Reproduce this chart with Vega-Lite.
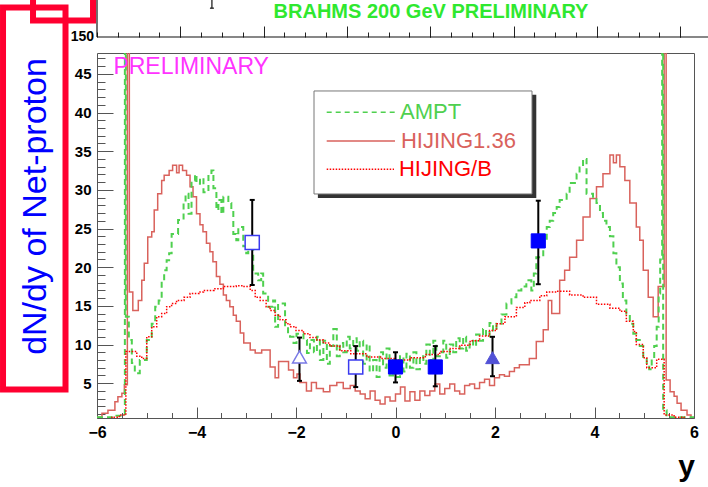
{
  "$schema": "https://vega.github.io/schema/vega-lite/v6.json",
  "autosize": "none",
  "width": 597,
  "height": 365,
  "padding": {"left": 97, "top": 53, "right": 14, "bottom": 69},
  "background": "white",
  "config": {"view": {"stroke": "#555", "strokeWidth": 1}, "font": "Liberation Sans"},
  "resolve": {"axis": {"x": "independent", "y": "independent"}},
  "datasets": {
    "salmon": [
      {"x":-6.0,"v":0.6},{"x":-5.9,"v":1.1},{"x":-5.78,"v":1.5},{"x":-5.64,"v":2.6},{"x":-5.58,"v":3.25},{"x":-5.5,"v":3.7},{"x":-5.45,"v":4.8},{"x":-5.39,"v":200},{"x":-5.35,"v":16.8},{"x":-5.28,"v":14.4},{"x":-5.17,"v":15.7},{"x":-5.1,"v":18.3},{"x":-5.05,"v":20.5},{"x":-4.98,"v":23.9},{"x":-4.9,"v":24.6},{"x":-4.85,"v":27.4},{"x":-4.78,"v":29.5},{"x":-4.7,"v":31.2},{"x":-4.65,"v":31.9},{"x":-4.55,"v":32.5},{"x":-4.48,"v":33.2},{"x":-4.4,"v":32.2},{"x":-4.35,"v":33.2},{"x":-4.28,"v":32.5},{"x":-4.2,"v":31.9},{"x":-4.13,"v":30.4},{"x":-4.07,"v":29.1},{"x":-4.0,"v":26.9},{"x":-3.93,"v":25.5},{"x":-3.87,"v":24.6},{"x":-3.8,"v":23.1},{"x":-3.73,"v":22.0},{"x":-3.67,"v":20.7},{"x":-3.6,"v":18.8},{"x":-3.53,"v":17.8},{"x":-3.46,"v":16.4},{"x":-3.4,"v":15.7},{"x":-3.33,"v":14.9},{"x":-3.26,"v":13.8},{"x":-3.2,"v":13.0},{"x":-3.12,"v":11.5},{"x":-3.05,"v":10.2},{"x":-2.92,"v":9.3},{"x":-2.82,"v":8.9},{"x":-2.69,"v":9.3},{"x":-2.52,"v":7.1},{"x":-2.42,"v":5.7},{"x":-2.35,"v":7.8},{"x":-2.15,"v":6.7},{"x":-2.05,"v":5.7},{"x":-1.98,"v":6.2},{"x":-1.92,"v":5.1},{"x":-1.79,"v":4.0},{"x":-1.69,"v":5.1},{"x":-1.59,"v":4.3},{"x":-1.45,"v":3.9},{"x":-1.32,"v":4.7},{"x":-1.18,"v":5.1},{"x":-1.05,"v":4.3},{"x":-0.91,"v":4.7},{"x":-0.81,"v":4.0},{"x":-0.71,"v":3.6},{"x":-0.61,"v":3.0},{"x":-0.51,"v":4.0},{"x":-0.41,"v":2.8},{"x":-0.31,"v":2.3},{"x":-0.21,"v":3.2},{"x":-0.11,"v":2.7},{"x":0.0,"v":3.6},{"x":0.1,"v":4.5},{"x":0.19,"v":2.7},{"x":0.29,"v":3.9},{"x":0.39,"v":2.8},{"x":0.49,"v":4.0},{"x":0.59,"v":3.4},{"x":0.69,"v":4.0},{"x":0.79,"v":4.9},{"x":0.89,"v":3.6},{"x":0.99,"v":4.3},{"x":1.09,"v":4.9},{"x":1.19,"v":4.0},{"x":1.29,"v":3.6},{"x":1.39,"v":4.7},{"x":1.49,"v":4.9},{"x":1.59,"v":4.3},{"x":1.69,"v":5.1},{"x":1.79,"v":5.5},{"x":1.89,"v":4.7},{"x":1.99,"v":5.7},{"x":2.09,"v":6.1},{"x":2.19,"v":5.9},{"x":2.29,"v":6.5},{"x":2.39,"v":7.0},{"x":2.49,"v":7.4},{"x":2.69,"v":8.2},{"x":2.83,"v":10.4},{"x":2.97,"v":11.9},{"x":3.07,"v":15.7},{"x":3.14,"v":14.0},{"x":3.3,"v":18.3},{"x":3.4,"v":19.6},{"x":3.5,"v":21.3},{"x":3.64,"v":23.5},{"x":3.77,"v":26.5},{"x":3.91,"v":28.9},{"x":4.04,"v":30.4},{"x":4.17,"v":32.1},{"x":4.31,"v":34.5},{"x":4.38,"v":33.5},{"x":4.44,"v":34.5},{"x":4.51,"v":33.0},{"x":4.61,"v":31.2},{"x":4.71,"v":28.3},{"x":4.84,"v":25.2},{"x":4.91,"v":23.5},{"x":4.98,"v":19.6},{"x":5.08,"v":16.1},{"x":5.18,"v":13.6},{"x":5.28,"v":17.5},{"x":5.4,"v":200},{"x":5.44,"v":5.4},{"x":5.52,"v":3.9},{"x":5.6,"v":3.3},{"x":5.66,"v":2.4},{"x":5.74,"v":1.5},{"x":5.86,"v":0.9},{"x":5.94,"v":0.5},{"x":6.0,"v":0.5}
    ],
    "green": [
      {"x":-6.0,"v":0.6},{"x":-5.7,"v":0.8},{"x":-5.5,"v":1.0},{"x":-5.44,"v":200},{"x":-5.42,"v":13.6},{"x":-5.36,"v":10.6},{"x":-5.3,"v":7.6},{"x":-5.24,"v":6.3},{"x":-5.14,"v":8.0},{"x":-5.0,"v":10.6},{"x":-4.9,"v":12.7},{"x":-4.83,"v":14.9},{"x":-4.76,"v":15.7},{"x":-4.7,"v":18.3},{"x":-4.65,"v":19.6},{"x":-4.6,"v":20.9},{"x":-4.55,"v":21.8},{"x":-4.5,"v":24.3},{"x":-4.37,"v":26.1},{"x":-4.26,"v":28.3},{"x":-4.22,"v":29.5},{"x":-4.16,"v":26.9},{"x":-4.1,"v":31.2},{"x":-4.03,"v":32.0},{"x":-4.0,"v":30.8},{"x":-3.93,"v":31.5},{"x":-3.86,"v":29.7},{"x":-3.76,"v":32.0},{"x":-3.7,"v":32.5},{"x":-3.66,"v":30.2},{"x":-3.6,"v":27.4},{"x":-3.56,"v":28.7},{"x":-3.5,"v":26.9},{"x":-3.46,"v":29.1},{"x":-3.36,"v":28.3},{"x":-3.3,"v":27.4},{"x":-3.26,"v":24.3},{"x":-3.2,"v":23.5},{"x":-3.16,"v":25.2},{"x":-3.06,"v":22.7},{"x":-3.0,"v":21.8},{"x":-2.96,"v":23.1},{"x":-2.86,"v":19.2},{"x":-2.76,"v":18.3},{"x":-2.7,"v":19.2},{"x":-2.66,"v":16.6},{"x":-2.56,"v":14.9},{"x":-2.46,"v":15.7},{"x":-2.42,"v":12.3},{"x":-2.36,"v":15.3},{"x":-2.22,"v":12.3},{"x":-2.16,"v":11.4},{"x":-2.12,"v":11.0},{"x":-2.05,"v":10.2},{"x":-1.99,"v":11.4},{"x":-1.85,"v":10.6},{"x":-1.78,"v":8.9},{"x":-1.72,"v":10.6},{"x":-1.64,"v":9.0},{"x":-1.58,"v":11.0},{"x":-1.52,"v":8.0},{"x":-1.45,"v":10.5},{"x":-1.38,"v":7.5},{"x":-1.32,"v":9.8},{"x":-1.25,"v":12.0},{"x":-1.18,"v":8.5},{"x":-1.12,"v":10.2},{"x":-1.05,"v":9.0},{"x":-0.98,"v":11.0},{"x":-0.92,"v":9.5},{"x":-0.85,"v":10.8},{"x":-0.78,"v":9.2},{"x":-0.72,"v":10.5},{"x":-0.65,"v":7.5},{"x":-0.58,"v":10.0},{"x":-0.52,"v":6.5},{"x":-0.45,"v":8.0},{"x":-0.38,"v":5.8},{"x":-0.32,"v":9.0},{"x":-0.25,"v":7.0},{"x":-0.18,"v":9.5},{"x":-0.12,"v":6.0},{"x":-0.05,"v":8.0},{"x":0.02,"v":5.8},{"x":0.09,"v":8.5},{"x":0.16,"v":6.5},{"x":0.22,"v":8.8},{"x":0.29,"v":7.0},{"x":0.36,"v":9.0},{"x":0.42,"v":6.8},{"x":0.49,"v":8.5},{"x":0.56,"v":7.5},{"x":0.62,"v":10.0},{"x":0.69,"v":8.0},{"x":0.76,"v":10.5},{"x":0.82,"v":8.5},{"x":0.89,"v":9.0},{"x":0.96,"v":10.5},{"x":1.02,"v":8.3},{"x":1.09,"v":10.0},{"x":1.16,"v":9.0},{"x":1.22,"v":10.8},{"x":1.29,"v":9.5},{"x":1.36,"v":11.0},{"x":1.42,"v":9.2},{"x":1.49,"v":10.5},{"x":1.56,"v":9.8},{"x":1.62,"v":11.3},{"x":1.69,"v":10.5},{"x":1.76,"v":12.0},{"x":1.82,"v":11.0},{"x":1.89,"v":12.8},{"x":1.96,"v":11.8},{"x":2.03,"v":12.7},{"x":2.13,"v":13.9},{"x":2.23,"v":15.3},{"x":2.33,"v":16.1},{"x":2.43,"v":17.0},{"x":2.53,"v":17.5},{"x":2.63,"v":18.3},{"x":2.73,"v":17.0},{"x":2.78,"v":19.2},{"x":2.83,"v":21.3},{"x":2.97,"v":23.5},{"x":3.04,"v":25.2},{"x":3.1,"v":26.0},{"x":3.17,"v":27.0},{"x":3.24,"v":27.8},{"x":3.3,"v":28.7},{"x":3.37,"v":28.7},{"x":3.44,"v":29.5},{"x":3.5,"v":30.9},{"x":3.64,"v":32.1},{"x":3.7,"v":32.9},{"x":3.77,"v":34.0},{"x":3.84,"v":29.5},{"x":3.97,"v":29.1},{"x":4.04,"v":28.3},{"x":4.11,"v":27.0},{"x":4.17,"v":26.0},{"x":4.24,"v":25.2},{"x":4.31,"v":24.0},{"x":4.38,"v":21.8},{"x":4.44,"v":20.0},{"x":4.51,"v":17.9},{"x":4.57,"v":15.7},{"x":4.64,"v":14.0},{"x":4.71,"v":12.7},{"x":4.78,"v":11.4},{"x":4.84,"v":10.6},{"x":4.91,"v":9.8},{"x":4.98,"v":8.4},{"x":5.05,"v":7.6},{"x":5.1,"v":6.8},{"x":5.15,"v":8.4},{"x":5.2,"v":9.8},{"x":5.25,"v":12.3},{"x":5.29,"v":16.6},{"x":5.32,"v":21.0},{"x":5.36,"v":200},{"x":5.38,"v":1.5},{"x":5.45,"v":0.6},{"x":6.0,"v":0.6}
    ],
    "red": [
      {"x":-6.0,"v":0.4},{"x":-5.7,"v":0.6},{"x":-5.55,"v":0.9},{"x":-5.42,"v":9.1},{"x":-5.2,"v":8.5},{"x":-5.1,"v":8.2},{"x":-5.0,"v":11.0},{"x":-4.9,"v":12.3},{"x":-4.8,"v":13.6},{"x":-4.7,"v":14.0},{"x":-4.6,"v":14.9},{"x":-4.5,"v":15.3},{"x":-4.4,"v":15.7},{"x":-4.25,"v":16.1},{"x":-4.13,"v":16.6},{"x":-3.95,"v":16.8},{"x":-3.86,"v":17.0},{"x":-3.65,"v":17.2},{"x":-3.46,"v":17.5},{"x":-3.2,"v":17.6},{"x":-3.06,"v":17.5},{"x":-2.92,"v":17.0},{"x":-2.82,"v":16.1},{"x":-2.72,"v":15.7},{"x":-2.6,"v":14.9},{"x":-2.52,"v":14.4},{"x":-2.42,"v":13.8},{"x":-2.32,"v":13.2},{"x":-2.2,"v":12.7},{"x":-2.12,"v":12.3},{"x":-2.0,"v":11.8},{"x":-1.85,"v":11.4},{"x":-1.72,"v":10.9},{"x":-1.58,"v":10.6},{"x":-1.45,"v":10.2},{"x":-1.32,"v":9.8},{"x":-1.12,"v":9.2},{"x":-0.9,"v":8.8},{"x":-0.58,"v":8.4},{"x":-0.3,"v":8.2},{"x":0.0,"v":8.0},{"x":0.29,"v":8.3},{"x":0.6,"v":8.7},{"x":0.89,"v":9.1},{"x":1.1,"v":9.5},{"x":1.29,"v":9.9},{"x":1.5,"v":10.5},{"x":1.69,"v":11.1},{"x":1.89,"v":11.8},{"x":2.03,"v":12.7},{"x":2.2,"v":13.6},{"x":2.43,"v":14.8},{"x":2.6,"v":15.4},{"x":2.7,"v":15.7},{"x":2.9,"v":16.3},{"x":3.04,"v":16.8},{"x":3.24,"v":16.9},{"x":3.5,"v":16.4},{"x":3.77,"v":16.1},{"x":4.04,"v":15.2},{"x":4.31,"v":14.7},{"x":4.51,"v":14.3},{"x":4.64,"v":13.0},{"x":4.78,"v":11.7},{"x":4.84,"v":10.0},{"x":4.98,"v":8.3},{"x":5.05,"v":7.0},{"x":5.25,"v":8.1},{"x":5.4,"v":0.9},{"x":5.6,"v":0.6},{"x":5.8,"v":0.4},{"x":6.0,"v":0.4}
    ],
    "points": [
      {"x":-2.88,"y":23.2,"lo":17.7,"hi":28.7,"k":"open-square"},
      {"x":-1.93,"y":8.4,"lo":5.3,"hi":10.9,"k":"open-triangle"},
      {"x":-0.8,"y":7.1,"lo":4.5,"hi":9.8,"k":"open-square"},
      {"x":0.0,"y":7.1,"lo":5.1,"hi":9.0,"k":"filled-square"},
      {"x":0.8,"y":7.1,"lo":4.6,"hi":9.8,"k":"filled-square"},
      {"x":1.95,"y":8.3,"lo":5.9,"hi":11.0,"k":"filled-triangle"},
      {"x":2.87,"y":23.4,"lo":17.8,"hi":28.6,"k":"filled-square"}
    ],
    "legendbox": [{"x":-1.638,"x2":2.744,"y":42.79,"y2":29.47}],
    "legendshadow": [{"x":-1.56,"x2":2.83,"y":42.3,"y2":28.95}],
    "legend": [
      {"s":"AMPT","x":-1.383,"x2":-0.01,"y":40.03,"tx":0.09},
      {"s":"HIJING1.36","x":-1.383,"x2":-0.01,"y":36.32,"tx":0.11},
      {"s":"HIJING/B","x":-1.383,"x2":-0.03,"y":32.66,"tx":0.07}
    ],
    "toppanel": [
      {"x":-6.0,"x2":6.4,"y":49.77,"y2":49.77},
      {"x":-6.0,"x2":-6.0,"y":49.77,"y2":56.0},
      {"x":-3.69,"x2":-3.69,"y":53.5,"y2":56.0},
      {"x":-3.73,"x2":-3.65,"y":53.5,"y2":53.5}
    ],
    "redboxes": [
      {"x":-7.889,"x2":-6.633,"y":53.58,"y2":4.19},
      {"x":-7.286,"x2":-6.08,"y":58.0,"y2":51.9}
    ]
  },
  "layer": [
    {
      "data": {"name": "salmon"},
      "mark": {"type": "line", "interpolate": "step-after", "clip": true, "color": "#d9625c", "strokeWidth": 1.5},
      "encoding": {
        "x": {"field": "x", "type": "quantitative", "scale": {"domain": [-6, 6], "nice": false, "zero": false},
          "axis": {"orient": "bottom", "values": [-6, -4, -2, 0, 2, 4, 6], "tickSize": -11, "tickColor": "#555", "domain": false, "grid": false, "labelPadding": 17, "labelFont": "Liberation Sans", "labelFontWeight": "bold", "labelFontSize": 16, "labelColor": "#000", "labelFlush": false, "labelOverlap": false,
            "title": "y", "titleFont": "Liberation Sans", "titleFontSize": 30, "titleFontWeight": "bold", "titleColor": "#000", "titleX": 589, "titleY": 57, "titleAlign": "center", "titleBaseline": "alphabetic"}},
        "y": {"field": "v", "type": "quantitative", "scale": {"domain": [0.5, 47.7], "nice": false, "zero": false},
          "axis": {"orient": "left", "values": [5, 10, 15, 20, 25, 30, 35, 40, 45], "tickSize": -16, "tickColor": "#555", "domain": false, "grid": false, "labelPadding": 22, "labelFont": "Liberation Sans", "labelFontWeight": "bold", "labelFontSize": 15, "labelColor": "#000", "labelFlush": false, "labelOverlap": false,
            "title": "dN/dy of Net-proton", "titleFont": "Liberation Sans", "titleFontSize": 34, "titleFontWeight": "normal", "titleColor": "#0000ff", "titleAngle": 270, "titleX": -62, "titleY": 153, "titleAlign": "center", "titleBaseline": "middle"}}
      }
    },
    {
      "data": {"name": "green"},
      "mark": {"type": "line", "interpolate": "step-after", "clip": true, "color": "#4fd04f", "strokeWidth": 2, "strokeDash": [6, 4]},
      "encoding": {
        "x": {"field": "x", "type": "quantitative", "scale": {"domain": [-6, 6], "nice": false, "zero": false},
          "axis": {"orient": "bottom", "values": [-5.5, -5, -4.5, -3.5, -3, -2.5, -1.5, -1, -0.5, 0.5, 1, 1.5, 2.5, 3, 3.5, 4.5, 5, 5.5], "tickSize": -5.5, "tickColor": "#555", "domain": false, "grid": false, "labels": false, "title": null}},
        "y": {"field": "v", "type": "quantitative", "scale": {"domain": [0.5, 47.7], "nice": false, "zero": false},
          "axis": {"orient": "left", "values": [1, 2, 3, 4, 6, 7, 8, 9, 11, 12, 13, 14, 16, 17, 18, 19, 21, 22, 23, 24, 26, 27, 28, 29, 31, 32, 33, 34, 36, 37, 38, 39, 41, 42, 43, 44, 46, 47, 50.93, 52.23, 53.52], "tickSize": -8, "tickColor": "#555", "domain": false, "grid": false, "labels": false, "title": null}}
      }
    },
    {
      "data": {"name": "red"},
      "mark": {"type": "line", "interpolate": "step-after", "clip": true, "color": "#ff0000", "strokeWidth": 1.5, "strokeDash": [1.5, 1.5]},
      "encoding": {
        "x": {"field": "x", "type": "quantitative", "scale": {"domain": [-6, 6], "nice": false, "zero": false},
          "axis": {"orient": "top", "offset": 16, "values": [-6.0, -5.581, -5.163, -4.744, -4.325, -3.907, -3.488, -3.069, -2.65, -2.232, -1.813, -1.394, -0.976, -0.557, -0.138, 0.281, 0.699, 1.118, 1.537, 1.955, 2.374, 2.793, 3.211, 3.63, 4.049, 4.468, 4.886, 5.305, 5.724, 6.142], "tickSize": 5, "tickColor": "#222", "domain": false, "grid": false, "labels": false, "title": null}},
        "y": {"field": "v", "type": "quantitative", "scale": {"domain": [0.5, 47.7], "nice": false, "zero": false}, "axis": null}
      }
    },
    {
      "data": {"name": "legendshadow"},
      "mark": {"type": "rect", "color": "#333", "opacity": 1},
      "encoding": {
        "x": {"field": "x", "type": "quantitative", "scale": {"domain": [-6, 6], "nice": false, "zero": false},
          "axis": {"orient": "top", "offset": 16, "values": [-4.325, -2.65, -0.976, 0.699, 2.374, 4.049, 5.724], "tickSize": 11, "tickColor": "#222", "domain": false, "grid": false, "labels": false, "title": null}},
        "x2": {"field": "x2"},
        "y": {"field": "y", "type": "quantitative", "scale": {"domain": [0.5, 47.7], "nice": false, "zero": false}, "axis": null},
        "y2": {"field": "y2"}
      }
    },
    {
      "data": {"name": "legendbox"},
      "mark": {"type": "rect", "fill": "white", "stroke": "#777", "strokeWidth": 1, "opacity": 1},
      "encoding": {
        "x": {"field": "x", "type": "quantitative", "axis": null},
        "x2": {"field": "x2"},
        "y": {"field": "y", "type": "quantitative", "axis": null},
        "y2": {"field": "y2"}
      }
    },
    {
      "data": {"name": "legend"},
      "mark": {"type": "rule", "strokeWidth": 1.5},
      "encoding": {
        "x": {"field": "x", "type": "quantitative", "axis": null},
        "x2": {"field": "x2"},
        "y": {"field": "y", "type": "quantitative", "axis": null},
        "color": {"field": "s", "type": "nominal", "legend": null, "scale": {"domain": ["AMPT", "HIJING1.36", "HIJING/B"], "range": ["#4fd04f", "#d9625c", "#ff0000"]}},
        "strokeDash": {"field": "s", "type": "nominal", "legend": null, "scale": {"domain": ["AMPT", "HIJING1.36", "HIJING/B"], "range": [[5, 4], [1, 0], [1.5, 1.5]]}}
      }
    },
    {
      "data": {"name": "legend"},
      "mark": {"type": "text", "align": "left", "baseline": "middle", "font": "Liberation Sans", "fontSize": 22},
      "encoding": {
        "x": {"field": "tx", "type": "quantitative", "axis": null},
        "y": {"field": "y", "type": "quantitative", "axis": null},
        "text": {"field": "s"},
        "color": {"field": "s", "type": "nominal", "legend": null, "scale": {"domain": ["AMPT", "HIJING1.36", "HIJING/B"], "range": ["#55cc55", "#cc5555", "#ff0000"]}}
      }
    },
    {
      "data": {"name": "points"},
      "mark": {"type": "rule", "color": "#000", "strokeWidth": 2},
      "encoding": {
        "x": {"field": "x", "type": "quantitative", "axis": null},
        "y": {"field": "lo", "type": "quantitative", "axis": null},
        "y2": {"field": "hi"}
      }
    },
    {
      "data": {"name": "points"},
      "mark": {"type": "tick", "orient": "horizontal", "color": "#000", "size": 5, "thickness": 2, "opacity": 1},
      "encoding": {
        "x": {"field": "x", "type": "quantitative", "axis": null},
        "y": {"field": "lo", "type": "quantitative", "axis": null}
      }
    },
    {
      "data": {"name": "points"},
      "mark": {"type": "tick", "orient": "horizontal", "color": "#000", "size": 5, "thickness": 2, "opacity": 1},
      "encoding": {
        "x": {"field": "x", "type": "quantitative", "axis": null},
        "y": {"field": "hi", "type": "quantitative", "axis": null}
      }
    },
    {
      "data": {"name": "points"},
      "transform": [{"filter": "datum.k === 'open-square'"}],
      "mark": {"type": "point", "shape": "square", "filled": true, "fill": "white", "stroke": "#3a3af0", "strokeWidth": 1.5, "size": 200, "opacity": 1},
      "encoding": {
        "x": {"field": "x", "type": "quantitative", "axis": null},
        "y": {"field": "y", "type": "quantitative", "axis": null}
      }
    },
    {
      "data": {"name": "points"},
      "transform": [{"filter": "datum.k === 'filled-square'"}],
      "mark": {"type": "point", "shape": "square", "filled": true, "fill": "#0000ff", "stroke": "#0000ff", "strokeWidth": 1, "size": 200, "opacity": 1},
      "encoding": {
        "x": {"field": "x", "type": "quantitative", "axis": null},
        "y": {"field": "y", "type": "quantitative", "axis": null}
      }
    },
    {
      "data": {"name": "points"},
      "transform": [{"filter": "datum.k === 'open-triangle'"}],
      "mark": {"type": "point", "shape": "triangle-up", "filled": true, "fill": "white", "stroke": "#7a7ae6", "strokeWidth": 1.5, "size": 190, "opacity": 1},
      "encoding": {
        "x": {"field": "x", "type": "quantitative", "axis": null},
        "y": {"field": "y", "type": "quantitative", "axis": null}
      }
    },
    {
      "data": {"name": "points"},
      "transform": [{"filter": "datum.k === 'filled-triangle'"}],
      "mark": {"type": "point", "shape": "triangle-up", "filled": true, "fill": "#5252d6", "stroke": "#5252d6", "strokeWidth": 1, "size": 190, "opacity": 1},
      "encoding": {
        "x": {"field": "x", "type": "quantitative", "axis": null},
        "y": {"field": "y", "type": "quantitative", "axis": null}
      }
    },
    {
      "data": {"values": [{"label": "PRELIMINARY", "x": -5.67, "y": 45.85}]},
      "mark": {"type": "text", "align": "left", "baseline": "middle", "font": "Liberation Sans", "fontSize": 23, "color": "#ff33ff"},
      "encoding": {
        "x": {"field": "x", "type": "quantitative", "axis": null},
        "y": {"field": "y", "type": "quantitative", "axis": null},
        "text": {"field": "label"}
      }
    },
    {
      "data": {"name": "toppanel"},
      "mark": {"type": "rule", "color": "#111", "strokeWidth": 1.2, "clip": false},
      "encoding": {
        "x": {"field": "x", "type": "quantitative", "axis": null},
        "x2": {"field": "x2"},
        "y": {"field": "y", "type": "quantitative", "axis": null},
        "y2": {"field": "y2"}
      }
    },
    {
      "data": {"name": "redboxes"},
      "mark": {"type": "rect", "filled": false, "stroke": "#ff0030", "strokeWidth": 6, "opacity": 1, "clip": false},
      "encoding": {
        "x": {"field": "x", "type": "quantitative", "axis": null},
        "x2": {"field": "x2"},
        "y": {"field": "y", "type": "quantitative", "axis": null},
        "y2": {"field": "y2"}
      }
    },
    {
      "data": {"values": [{"label": "BRAHMS 200 GeV PRELIMINARY", "x": 0.714, "y": 53.0}]},
      "mark": {"type": "text", "align": "center", "baseline": "middle", "font": "Liberation Sans", "fontWeight": "bold", "fontSize": 20, "color": "#2fe82f"},
      "encoding": {
        "x": {"field": "x", "type": "quantitative", "axis": null},
        "y": {"field": "y", "type": "quantitative", "axis": null},
        "text": {"field": "label"}
      }
    },
    {
      "data": {"values": [{"label": "150", "x": -6.06, "y": 49.3}]},
      "mark": {"type": "text", "align": "right", "baseline": "alphabetic", "font": "Liberation Sans", "fontWeight": "bold", "fontSize": 14, "color": "#000"},
      "encoding": {
        "x": {"field": "x", "type": "quantitative", "axis": null},
        "y": {"field": "y", "type": "quantitative", "axis": null},
        "text": {"field": "label"}
      }
    }
  ]
}
